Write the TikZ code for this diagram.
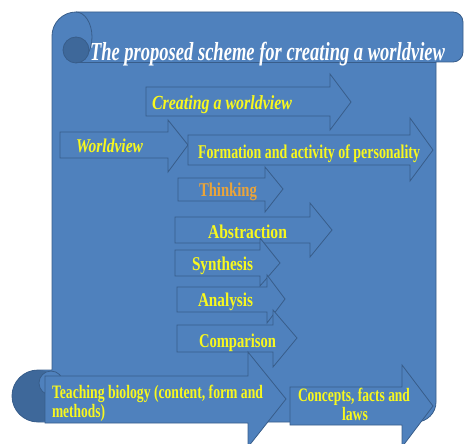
\documentclass[tikz,border=0pt]{standalone}
\usepackage{fontspec}
\setmainfont{Liberation Serif}
\usepackage{graphicx}
\definecolor{scrollfill}{HTML}{4F81BD}
\definecolor{scrollline}{HTML}{385D8A}
\definecolor{curldark}{HTML}{3E689A}
\definecolor{txtyellow}{HTML}{F8F81E}
\definecolor{txtorange}{HTML}{E9A43B}
\newcommand\fitw[3]{\resizebox{#1pt}{\height}{\fontsize{#2}{#2}\selectfont\bfseries #3}}
\newcommand\fitwi[3]{\resizebox{#1pt}{\height}{\fontsize{#2}{#2}\selectfont\bfseries\itshape #3}}
\newcommand\myarrow[8]{%
  \draw[blk] (#1,#3) -- (#2,#3) -- (#2,#5) -- (#7,#8) -- (#2,#6) -- (#2,#4) -- (#1,#4) -- cycle;}
\tikzset{
  blk/.style={fill=scrollfill, draw=scrollline, line width=0.8pt, line join=miter},
  edge/.style={draw=scrollline, line width=0.8pt},
  lbl/.style={inner sep=0pt, outer sep=0pt, text=txtyellow, anchor=base west},
}
\begin{document}
\begin{tikzpicture}[x=1pt,y=-1pt]
\clip (0,0) rectangle (466,444);
% scroll
\fill[scrollfill] (52,370) -- (52,36) arc[start angle=180,end angle=270,radius=24]
  -- (453,12) arc[start angle=270,end angle=360,radius=10] -- (463,52)
  arc[start angle=0,end angle=90,radius=10] -- (436,62) -- (436,402)
  arc[start angle=0,end angle=90,radius=20] -- (38,422)
  arc[start angle=90,end angle=270,radius=26] -- cycle;
\fill[curldark] (38,396) circle[radius=26];
\fill[scrollfill] (52,369) rectangle (240,421);
\draw[edge, fill=scrollfill] (51,383) circle[radius=12];
\draw[edge] (52,370) -- (52,36) arc[start angle=180,end angle=270,radius=24]
  -- (453,12) arc[start angle=270,end angle=360,radius=10] -- (463,52)
  arc[start angle=0,end angle=90,radius=10] -- (436,62) -- (436,402)
  arc[start angle=0,end angle=90,radius=20] -- (38,422)
  arc[start angle=90,end angle=270,radius=26] -- cycle;
\draw[edge] (76,12) arc[start angle=270,end angle=450,x radius=16,y radius=25];
\draw[edge, fill=curldark] (76,50) circle[radius=13];
\draw[edge] (76,62) -- (436,62);
% arrows
\myarrow{146}{330}{87}{116}{74}{130}{351}{102}
\myarrow{60}{168}{132}{158}{120}{172}{188}{145}
\myarrow{188}{410}{135}{165}{118}{181}{433}{150}
\myarrow{178}{265}{178}{201}{167}{212}{283}{189}
\myarrow{175}{310}{217}{243}{203}{257}{332}{230}
\myarrow{175}{260}{250}{276}{238}{286}{280}{263}
\myarrow{177}{267}{287}{312}{275}{323}{285}{299}
\myarrow{177}{273}{325}{352}{310}{367}{297}{338}
\myarrow{45}{248}{376}{423}{352}{447}{286}{399}
\myarrow{290}{402}{387}{425}{365}{447}{433}{406}
% texts
\node[lbl, text=white] (title) at (90,61) {\fitwi{355}{26}{The proposed scheme for creating a worldview}};
\node[lbl] (creating) at (152,110) {\fitwi{140}{20}{Creating a worldview}};
\node[lbl] (worldview) at (76,152) {\fitwi{67}{19.5}{Worldview}};
\node[lbl] (formation) at (198,158) {\fitw{222}{19.5}{Formation and activity of personality}};
\node[lbl, text=txtorange] (thinking) at (199,196) {\fitw{58}{19.5}{Thinking}};
\node[lbl] (abstraction) at (208,238) {\fitw{79}{19.5}{Abstraction}};
\node[lbl] (synthesis) at (192,270) {\fitw{61}{19.5}{Synthesis}};
\node[lbl] (analysis) at (198,306) {\fitw{55}{19.5}{Analysis}};
\node[lbl] (comparison) at (199,347) {\fitw{77}{19.5}{Comparison}};
\node[lbl] (teach1) at (52,398) {\fitw{211}{19}{Teaching biology (content, form and}};
\node[lbl] (teach2) at (52,417) {\fitw{53}{19}{methods)}};
\node[lbl] (conc1) at (298,401) {\fitw{112}{19}{Concepts, facts and}};
\node[lbl, anchor=base] (conc2) at (355,420) {\fitw{26}{19}{laws}};
\end{tikzpicture}
\end{document}
